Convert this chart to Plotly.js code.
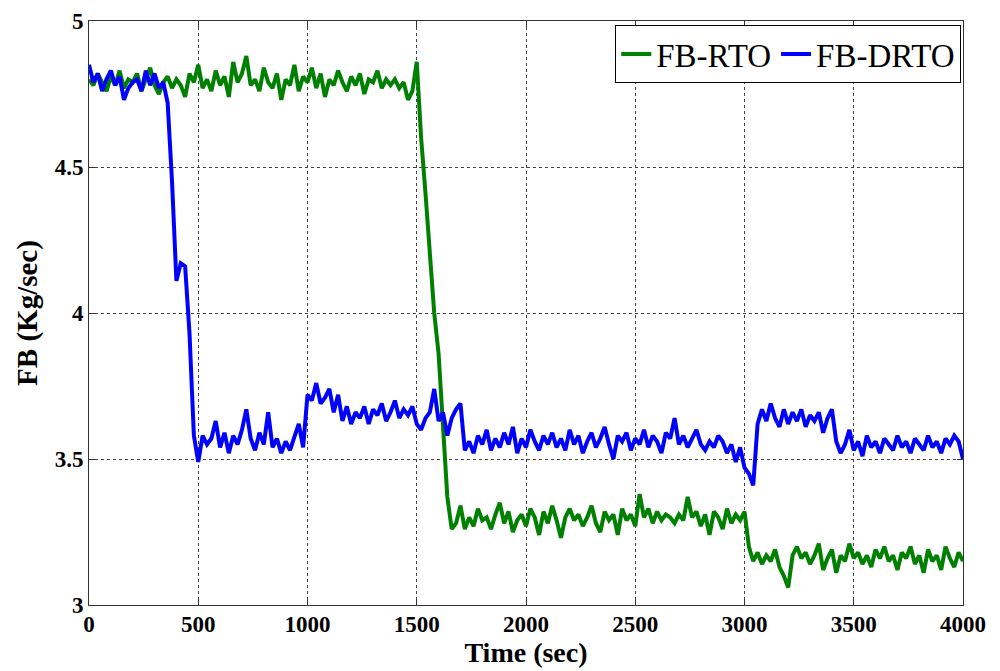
<!DOCTYPE html>
<html>
<head>
<meta charset="utf-8">
<script src="https://cdn.plot.ly/plotly-3.0.1.min.js"></script>
<style>html,body{margin:0;padding:0;background:#fff;}#chart{width:1000px;height:671px;}</style>
</head>
<body>
<div id="chart"></div>
<script>
// sampling step of the readings (sec)
var stepSec = 20;
var nSamples = 201;

var fbRto = [
  4.80,4.78,4.82,4.79,4.76,4.81,4.78,4.83,4.77,4.80,
  4.79,4.82,4.76,4.80,4.84,4.78,4.75,4.79,4.81,4.77,
  4.80,4.78,4.74,4.82,4.79,4.85,4.77,4.80,4.76,4.83,
  4.78,4.81,4.74,4.86,4.79,4.82,4.88,4.78,4.80,4.76,
  4.84,4.79,4.77,4.82,4.73,4.80,4.78,4.85,4.76,4.81,
  4.79,4.84,4.77,4.82,4.74,4.80,4.78,4.83,4.79,4.76,
  4.81,4.78,4.82,4.75,4.80,4.79,4.83,4.77,4.80,4.78,
  4.80,4.77,4.79,4.73,4.76,4.86,
  4.60,4.41,4.19,4.00,3.86,3.61,3.37,3.26,
  3.28,3.34,3.26,3.30,3.27,3.33,3.29,3.30,3.26,3.31,
  3.35,3.28,3.32,3.25,3.29,3.31,3.27,3.33,3.30,3.24,
  3.32,3.28,3.34,3.29,3.23,3.30,3.33,3.29,3.31,3.27,
  3.30,3.34,3.28,3.25,3.32,3.29,3.31,3.24,3.33,3.29,
  3.31,3.27,3.38,3.30,3.33,3.28,3.32,3.29,3.31,3.30,
  3.28,3.31,3.29,3.37,3.30,3.32,3.27,3.31,3.24,3.32,
  3.30,3.26,3.33,3.28,3.31,3.29,3.32,
  3.20,3.15,3.18,3.14,3.17,3.15,3.19,3.13,3.10,3.06,
  3.17,3.20,3.16,3.18,3.14,3.17,3.21,3.12,3.16,3.19,
  3.11,3.17,3.15,3.21,3.16,3.18,3.14,3.17,3.13,3.19,
  3.16,3.20,3.15,3.17,3.12,3.18,3.16,3.20,3.14,3.17,
  3.11,3.19,3.15,3.17,3.12,3.20,3.16,3.13,3.18,3.15
];

var fbDrto = [
  4.85,4.79,4.82,4.76,4.80,4.83,4.78,4.81,4.73,4.77,
  4.79,4.80,4.76,4.83,4.78,4.82,4.77,4.79,
  4.72,4.45,4.11,4.17,4.16,3.93,3.58,3.49,
  3.58,3.55,3.57,3.63,3.54,3.59,3.52,3.58,3.55,3.60,
  3.67,3.57,3.53,3.59,3.55,3.66,3.54,3.57,3.52,3.56,
  3.53,3.58,3.62,3.54,3.72,
  3.70,3.76,3.69,3.71,3.74,3.66,3.72,3.63,3.68,3.62,
  3.66,3.64,3.68,3.62,3.67,3.65,3.69,3.63,3.66,3.70,
  3.64,3.67,3.65,3.68,3.62,
  3.60,3.64,3.66,3.74,3.63,3.66,3.58,3.64,3.67,3.69,3.53,
  3.56,3.52,3.58,3.55,3.60,3.53,3.57,3.54,3.59,
  3.55,3.61,3.52,3.57,3.54,3.60,3.56,3.53,3.58,3.55,
  3.59,3.54,3.57,3.53,3.60,3.55,3.58,3.52,3.56,3.59,
  3.54,3.57,3.61,3.55,3.50,3.58,3.56,3.59,3.53,3.57,
  3.55,3.60,3.54,3.58,3.56,3.52,3.59,3.57,3.64,3.55,
  3.58,3.54,3.57,3.60,3.55,3.53,3.56,3.54,3.58,3.56,
  3.52,3.55,3.49,3.54,3.47,3.45,3.41,
  3.62,3.67,3.63,3.69,3.64,3.61,3.67,3.62,3.66,3.63,
  3.67,3.61,3.65,3.63,3.66,3.59,3.64,3.67,3.56,3.52,
  3.55,3.60,3.53,3.56,3.51,3.58,3.54,3.56,3.52,3.57,
  3.55,3.53,3.58,3.54,3.56,3.52,3.57,3.55,3.53,3.58,
  3.54,3.56,3.52,3.57,3.55,3.58,3.56,3.50
];

var xTickVals = [0,500,1000,1500,2000,2500,3000,3500,4000];
var yTickVals = [3,3.5,4,4.5,5];
var yTickText = ['3','3.5','4','4.5','5'];

var timeSec = [];
for (var i = 0; i < nSamples; i++) { timeSec.push(i * stepSec); }

var serif = '"Liberation Serif", "Times New Roman", serif';

var traces = [
  {x: timeSec, y: fbRto, type: 'scatter', mode: 'lines', name: 'FB-RTO',
   line: {color: '#008000', width: 4}},
  {x: timeSec, y: fbDrto, type: 'scatter', mode: 'lines', name: 'FB-DRTO',
   line: {color: '#0000ff', width: 4}}
];

var axisCommon = {
  showline: true, linecolor: '#333', linewidth: 1, mirror: 'ticks',
  ticks: 'inside', ticklen: 6, tickcolor: '#333',
  showgrid: true, gridcolor: '#444', gridwidth: 1, griddash: 'dot',
  zeroline: false,
  tickfont: {family: serif, size: 23, color: '#000', weight: 'bold'}
};

var layout = {
  width: 1000, height: 671,
  margin: {l: 89, r: 36.5, t: 21, b: 66},
  paper_bgcolor: '#fff', plot_bgcolor: '#fff',
  showlegend: true,
  xaxis: Object.assign({}, axisCommon, {
    range: [0, 4000], tickvals: xTickVals, ticktext: xTickVals.map(String),
    ticklabelstandoff: -2,
    title: {text: 'Time (sec)', standoff: 4, font: {family: serif, size: 28, color: '#000', weight: 'bold'}}
  }),
  yaxis: Object.assign({}, axisCommon, {
    range: [3, 5], tickvals: yTickVals, ticktext: yTickText,
    title: {text: 'FB (Kg/sec)', standoff: 8, font: {family: serif, size: 29, color: '#000', weight: 'bold'}}
  }),
  legend: {
    orientation: 'h', x: 0.998, xanchor: 'right', y: 0.993, yanchor: 'top',
    bgcolor: '#fff', bordercolor: '#000', borderwidth: 1,
    font: {family: serif, size: 33, color: '#000'},
    itemwidth: 30, tracegroupgap: 0
  }
};

Plotly.newPlot('chart', traces, layout, {displayModeBar: false, staticPlot: true});
</script>
</body>
</html>
